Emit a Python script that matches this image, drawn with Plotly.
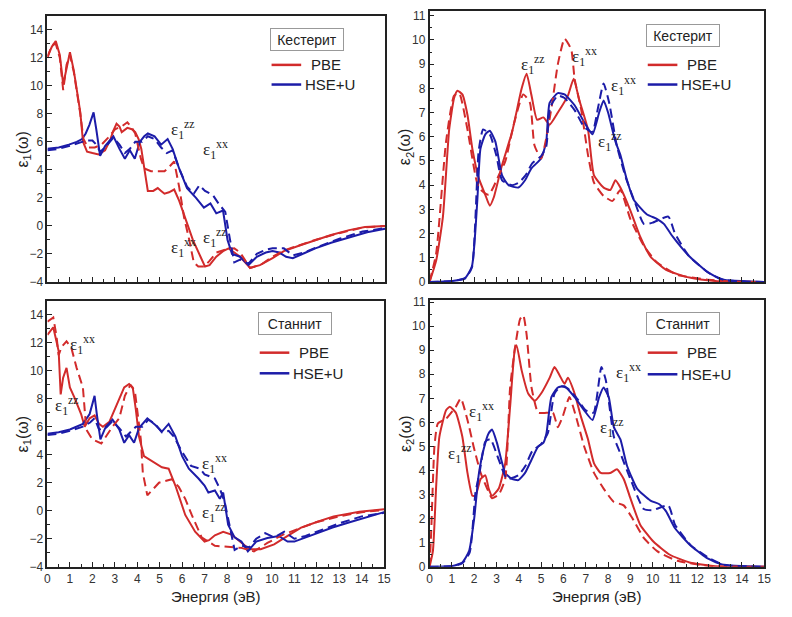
import plotly.graph_objects as go

# ---------------- data ----------------
energy_ticks = list(range(0, 16))

# Kesterite eps1
ke1_pbe_x = [0,0.2,0.37,0.55,0.7,0.85,1.0,1.17,1.3,1.46,1.58,1.76,2.0,2.27,2.56,2.8,2.93,3.07,3.2,3.3,3.55,3.75,3.9,4.05,4.17,4.3,4.46,4.7,4.9,5.05,5.2,5.4,5.63,5.85,6.15,6.46,6.8,7.0,7.2,7.5,7.8,8.05,8.3,8.56,9.0,9.44,10.0,10.5,11.2,11.9,12.6,13.4,14.1,15]
ke1_pbe_y = [12.1,12.8,13.2,12.2,10.1,11.3,12.4,11.1,9.6,8.1,6.0,5.3,5.2,5.1,5.4,6.2,6.8,7.3,7.1,6.7,7.0,6.9,6.7,6.2,5.5,4.2,2.5,2.5,2.7,2.5,2.3,2.4,2.6,1.8,0.4,-1.0,-2.2,-2.9,-2.8,-2.2,-1.8,-1.6,-1.9,-2.2,-3.0,-2.8,-2.3,-1.8,-1.4,-1.0,-0.65,-0.3,-0.07,0.0]
ke1_pbe_d_x = [0,0.2,0.37,0.55,0.7,0.85,1.0,1.17,1.46,1.6,1.8,2.1,2.4,2.7,3.0,3.3,3.55,3.75,3.9,4.0,4.15,4.3,4.6,4.9,5.2,5.4,5.63,5.85,6.07,6.3,6.5,6.7,6.96,7.2,7.5,7.9,8.3,8.56,9.0,9.5,10.0,10.5,11.2,12,13,14,15]
ke1_pbe_d_y = [12.0,12.9,13.0,12.0,9.7,11.5,12.2,11.0,8.0,6.2,5.6,5.6,5.8,6.3,6.9,7.1,7.4,7.0,6.6,5.8,4.8,4.1,3.9,3.9,3.9,4.2,4.6,2.8,0.6,-1.0,-2.6,-2.9,-2.9,-2.5,-1.9,-1.7,-1.6,-1.9,-3.0,-2.75,-2.2,-1.75,-1.35,-0.95,-0.5,-0.12,0.0]
ke1_hse_x = [0,0.5,0.95,1.3,1.54,1.7,1.86,2.05,2.17,2.34,2.56,2.75,2.93,3.2,3.44,3.66,3.88,4.1,4.3,4.46,4.76,5.05,5.2,5.34,5.56,5.85,6.2,6.6,6.95,7.24,7.5,7.8,8.0,8.2,8.56,8.93,9.3,9.7,10.0,10.3,10.6,10.9,11.4,11.9,12.6,13.4,14.2,15]
ke1_hse_y = [5.5,5.6,5.8,6.0,6.2,6.6,7.2,8.1,6.9,5.0,5.7,6.1,6.4,5.5,4.8,5.4,4.8,6.0,6.4,6.6,6.4,5.8,6.0,6.2,5.5,4.1,2.7,2.0,1.3,1.6,0.9,1.1,-1.0,-2.0,-2.2,-2.8,-2.2,-1.9,-1.8,-1.9,-2.2,-2.3,-1.95,-1.6,-1.2,-0.8,-0.45,-0.2]
ke1_hse_d_x = [0,0.5,0.95,1.3,1.54,1.8,2.0,2.17,2.34,2.56,2.75,2.93,3.2,3.44,3.66,3.9,4.2,4.46,4.76,5.05,5.3,5.56,5.85,6.2,6.5,6.75,7.0,7.35,7.6,7.9,8.1,8.3,8.56,8.93,9.3,9.7,10.0,10.5,10.9,11.4,12,13,14,15]
ke1_hse_d_y = [5.4,5.5,5.7,5.9,6.0,6.1,6.1,5.8,5.3,5.6,6.0,6.3,5.8,5.2,5.5,6.0,6.0,6.4,6.2,5.6,5.2,5.4,4.1,2.8,2.3,2.9,2.5,2.2,1.6,1.0,-0.9,-2.6,-2.4,-2.7,-2.0,-1.7,-1.6,-1.6,-2.1,-1.9,-1.5,-0.9,-0.4,-0.15]

# Kesterite eps2
ke2_pbe_x = [0,0.3,0.6,0.88,1.1,1.25,1.47,1.7,1.92,2.2,2.5,2.7,2.88,3.24,3.7,4.13,4.35,4.57,4.82,5.1,5.38,5.75,6.2,6.46,6.7,7.1,7.37,7.8,8.1,8.33,8.55,9.0,9.44,9.9,10.6,11.65,12.8,15]
ke2_pbe_y = [0,0.9,2.7,6.3,7.6,7.9,7.75,6.9,5.5,4.3,3.6,3.15,3.5,4.8,6.2,8.0,8.6,7.7,6.7,6.8,6.5,7.0,7.7,8.4,7.55,6.3,4.4,3.9,3.8,4.2,3.9,2.95,1.87,1.05,0.5,0.18,0.04,0]
ke2_pbe_d_x = [0,0.3,0.74,1.1,1.33,1.7,2.2,2.65,3.1,3.4,3.77,4.2,4.5,4.7,5.0,5.2,5.5,5.75,6.05,6.35,6.5,6.8,7.1,7.37,7.8,8.2,8.55,9.0,9.6,10.2,11.1,12.4,13.5,15]
ke2_pbe_d_y = [0,1.2,5.8,7.7,7.8,6.3,3.9,3.6,4.4,5.0,6.5,7.75,7.4,5.65,5.1,5.8,7.4,9.0,10.05,9.6,8.4,7.1,5.25,4.1,3.55,3.35,3.8,2.6,1.5,0.8,0.3,0.1,0.02,0]
ke2_hse_x = [0,1.03,1.6,1.9,2.14,2.28,2.5,2.7,2.95,3.25,3.54,3.98,4.28,4.57,5.0,5.23,5.38,5.75,6.05,6.5,6.93,7.3,7.6,7.8,8.0,8.33,8.55,8.85,9.15,9.73,10.2,10.5,10.9,11.65,12.4,13.1,15]
ke2_hse_y = [0,0.04,0.17,0.65,3.35,5.5,6.1,6.25,5.8,4.4,4.0,3.9,4.2,4.7,5.1,5.8,7.4,7.8,7.75,7.3,6.6,6.1,7.0,7.5,7.0,5.8,5.25,4.2,3.4,2.8,2.6,2.4,1.87,1.05,0.45,0.1,0]
ke2_hse_d_x = [0,1.03,1.6,1.9,2.2,2.4,2.7,3.0,3.25,3.7,4.0,4.3,4.6,5.0,5.23,5.4,5.75,6.05,6.5,6.93,7.3,7.55,7.8,8.05,8.4,8.8,9.2,9.6,10.0,10.7,11.0,11.6,12.5,13.2,15]
ke2_hse_d_y = [0,0.04,0.15,0.6,5.4,6.3,6.1,5.2,4.2,4.0,4.1,4.4,4.9,5.2,5.6,7.2,7.7,7.6,7.1,6.4,6.2,7.2,8.2,7.4,5.6,4.3,3.3,2.4,2.45,2.7,2.0,1.1,0.38,0.08,0]

# Stannite eps1
st1_pbe_x = [0,0.26,0.5,0.59,0.7,0.85,1.0,1.2,1.5,1.66,1.88,2.1,2.3,2.47,2.76,3.13,3.42,3.64,3.8,3.94,4.08,4.3,4.67,5.1,5.4,5.7,6.14,6.58,7.0,7.2,7.46,7.83,8.2,8.64,9.0,9.5,10.1,10.7,11.3,12.0,12.75,13.9,15]
st1_pbe_y = [12.55,13.1,11.4,8.3,9.5,10.2,8.8,8.1,6.9,6.0,6.6,6.8,6.2,6.0,6.35,7.75,8.8,9.05,8.8,7.2,5.3,3.9,3.55,3.1,3.0,1.8,-0.3,-1.5,-2.2,-2.1,-1.75,-1.5,-1.7,-2.3,-2.75,-2.75,-2.4,-1.8,-1.2,-0.8,-0.4,-0.07,0.1]
st1_pbe_d_x = [0,0.26,0.4,0.5,0.63,0.85,1.07,1.3,1.58,1.73,2.0,2.4,2.9,3.2,3.45,3.7,3.9,4.05,4.16,4.25,4.45,4.97,5.55,5.85,6.14,6.43,6.87,7.46,8.34,8.64,9.2,9.8,10.5,11.3,12,13,14,15]
st1_pbe_d_y = [13.5,13.8,12.5,11.1,11.7,12.1,11.6,10.2,8.8,5.8,5.1,4.8,6.0,6.6,8.2,9.0,8.5,6.5,5.1,2.7,1.1,2.0,2.25,1.7,0.85,-0.3,-1.9,-2.5,-2.65,-2.65,-2.9,-2.3,-1.7,-1.2,-0.8,-0.4,-0.1,0.05]
st1_hse_x = [0,0.5,1.0,1.58,1.88,2.1,2.2,2.36,2.6,2.9,3.2,3.42,3.64,3.86,4.08,4.45,4.82,5.1,5.4,5.7,6.0,6.3,6.73,7.0,7.17,7.46,7.68,7.83,8.05,8.34,8.64,8.93,9.3,9.8,10.3,10.7,11.0,11.5,12.0,12.7,13.5,14.2,15]
st1_hse_y = [5.5,5.6,5.8,6.2,6.9,8.2,6.9,5.1,6.0,6.5,5.8,4.85,5.4,4.85,5.9,6.6,6.1,5.65,6.2,5.3,3.9,3.0,2.3,1.8,1.3,1.45,0.85,1.3,-1.0,-1.9,-2.2,-2.9,-2.2,-1.95,-1.8,-2.2,-2.2,-1.9,-1.6,-1.2,-0.8,-0.45,-0.1]
st1_hse_d_x = [0,0.5,1.0,1.58,1.9,2.1,2.3,2.6,2.9,3.2,3.5,3.94,4.23,4.5,4.8,5.1,5.4,5.63,6.0,6.4,6.8,7.0,7.46,7.7,7.9,8.1,8.34,8.64,9.0,9.3,9.7,10.1,10.55,11,11.5,12,13,14,15]
st1_hse_d_y = [5.4,5.5,5.7,6.0,6.3,6.6,5.8,5.9,6.4,5.9,5.3,6.0,6.0,6.5,6.2,5.6,5.7,5.3,4.2,3.2,3.0,2.6,2.3,1.5,0.6,-1.0,-2.8,-2.5,-2.6,-2.0,-1.6,-1.9,-1.5,-2.0,-1.8,-1.5,-0.9,-0.4,-0.15]

# Stannite eps2
st2_pbe_x = [0,0.15,0.3,0.44,0.74,0.91,1.18,1.47,1.7,1.92,2.06,2.29,2.5,2.65,2.8,3.1,3.39,3.61,3.83,3.9,4.13,4.42,4.72,5.0,5.38,5.6,5.83,6.05,6.2,6.5,6.78,7.1,7.37,7.67,8.1,8.4,8.7,9.0,9.44,10.03,10.77,11.65,13.1,15]
st2_pbe_y = [0,0.65,3.4,5.4,6.5,6.65,6.4,5.4,3.9,2.95,2.95,3.65,3.8,3.25,2.95,3.25,4.3,6.65,9.1,9.2,8.15,7.2,6.9,7.2,7.85,8.3,7.95,7.6,7.85,7.2,6.25,5.3,4.3,3.9,3.9,4.05,3.65,2.85,1.75,1.05,0.5,0.18,0,0]
st2_pbe_d_x = [0,0.07,0.22,0.37,0.74,1.18,1.4,1.7,2.0,2.29,2.58,2.8,3.1,3.39,3.61,3.83,4.06,4.2,4.35,4.57,4.87,5.24,5.53,5.75,5.97,6.27,6.56,6.93,7.37,7.8,8.25,8.7,9.1,9.6,10.2,11.1,12.5,15]
st2_pbe_d_y = [0,1.35,5.0,5.95,6.15,6.65,7.0,6.1,4.9,3.9,3.25,2.85,3.0,3.65,7.45,9.1,10.3,10.45,9.65,7.45,6.4,6.4,6.4,5.8,6.25,7.05,6.25,5.0,3.9,3.25,2.7,2.55,2.0,1.2,0.65,0.25,0.04,0]
st2_hse_x = [0,1.03,1.47,1.77,2.0,2.2,2.43,2.65,2.8,3.02,3.39,3.69,3.98,4.28,4.57,4.87,5.1,5.24,5.46,5.75,6.05,6.5,6.93,7.3,7.6,7.8,8.03,8.26,8.55,8.85,9.3,9.9,10.3,10.6,11.0,11.65,12.4,13.1,15]
st2_hse_y = [0,0.03,0.18,0.65,2.0,3.8,4.9,5.55,5.7,5.15,3.9,3.65,3.6,3.9,4.45,5.0,5.15,5.55,7.05,7.45,7.5,7.05,6.5,6.1,7.05,7.45,7.05,5.8,5.3,4.2,3.25,2.75,2.6,2.3,1.6,0.93,0.38,0.1,0]
st2_hse_d_x = [0,1.03,1.47,1.8,2.06,2.24,2.5,2.73,3.1,3.47,3.98,4.3,4.6,5.0,5.3,5.6,5.9,6.2,6.6,7.0,7.35,7.7,7.9,8.26,8.6,9.0,9.6,10.0,10.7,11.0,11.7,12.5,13.2,15]
st2_hse_d_y = [0,0.03,0.15,0.6,3.1,3.9,5.2,5.3,4.45,3.65,3.8,4.2,4.8,5.1,5.55,7.2,7.5,7.4,7.0,6.5,6.4,8.3,7.75,5.4,4.6,3.65,2.4,2.35,2.55,1.75,0.9,0.38,0.08,0]

panel_titles = ["Кестерит", "Кестерит", "Станнит", "Станнит"]
legend_names = ["PBE", "HSE+U"]
x_title = "Энергия (эВ)"
y_titles = ["ε<sub>1</sub>(ω)", "ε<sub>2</sub>(ω)", "ε<sub>1</sub>(ω)", "ε<sub>2</sub>(ω)"]

# (panel index, superscript, x of the epsilon glyph, y)
labels = [
    (0, "zz", 5.6, 6.9), (0, "xx", 7.0, 5.45), (0, "xx", 5.6, -1.55), (0, "zz", 7.0, -0.8),
    (1, "zz", 4.2, 9.0), (1, "xx", 6.5, 9.3), (1, "xx", 8.25, 8.1), (1, "zz", 7.65, 5.8),
    (2, "xx", 1.1, 11.9), (2, "zz", 0.45, 7.5), (2, "xx", 7.0, 3.4), (2, "zz", 7.0, -0.1),
    (3, "xx", 1.9, 6.45), (3, "zz", 0.93, 4.7), (3, "xx", 8.45, 8.07), (3, "zz", 7.75, 5.8),
]

RED = "#d22b2b"
BLUE = "#1c1ca8"
W, H = 792, 617

fig = go.Figure()

panels = [
    (ke1_pbe_x, ke1_pbe_y, ke1_pbe_d_x, ke1_pbe_d_y, ke1_hse_x, ke1_hse_y, ke1_hse_d_x, ke1_hse_d_y),
    (ke2_pbe_x, ke2_pbe_y, ke2_pbe_d_x, ke2_pbe_d_y, ke2_hse_x, ke2_hse_y, ke2_hse_d_x, ke2_hse_d_y),
    (st1_pbe_x, st1_pbe_y, st1_pbe_d_x, st1_pbe_d_y, st1_hse_x, st1_hse_y, st1_hse_d_x, st1_hse_d_y),
    (st2_pbe_x, st2_pbe_y, st2_pbe_d_x, st2_pbe_d_y, st2_hse_x, st2_hse_y, st2_hse_d_x, st2_hse_d_y),
]

for i, p in enumerate(panels):
    xa = "x" if i == 0 else f"x{i+1}"
    ya = "y" if i == 0 else f"y{i+1}"
    shape = "linear" if i in (0, 2) else "spline"
    for (xs, ys, col, dash) in [(p[0], p[1], RED, "solid"), (p[4], p[5], BLUE, "solid"),
                                (p[2], p[3], RED, "9px,5px"), (p[6], p[7], BLUE, "9px,5px")]:
        fig.add_trace(go.Scatter(x=xs, y=ys, mode="lines", xaxis=xa, yaxis=ya,
                                 line=dict(color=col, width=2, dash=dash, shape=shape,
                                           smoothing=0.5 if shape == "spline" else None),
                                 showlegend=False, hoverinfo="skip"))

# panel pixel boxes: (left, right, top, bottom)
boxes = [(45, 387, 12, 283), (432, 771, 7, 283), (45, 386, 302, 573), (432, 771, 301, 573)]
yranges = [[-4, 15], [0, 11.2], [-4, 15], [0, 11.1]]

tickfont = dict(family="Liberation Sans, Arial", size=12, color="#333")
for i, (l, r, t, b) in enumerate(boxes):
    sx = "" if i == 0 else str(i + 1)
    xa = dict(domain=[l / W, r / W], range=[0, 15], anchor="y" + sx, tickmode="array",
              tickvals=energy_ticks, ticktext=[str(v) for v in energy_ticks],
              showticklabels=(i >= 2), ticks="inside", ticklen=5, tickwidth=1.2, tickcolor="#222",
              minor=dict(ticks="inside", ticklen=3, dtick=0.5, tickcolor="#222"),
              showline=True, mirror=True, linecolor="#222", linewidth=1.5,
              showgrid=False, zeroline=False, tickfont=tickfont)
    left = i in (0, 2)
    ya = dict(domain=[1 - b / H, 1 - t / H], range=yranges[i], anchor="x" + sx,
              dtick=2 if left else 1, tick0=-4 if left else 0,
              ticks="inside", ticklen=5, tickwidth=1.2, tickcolor="#222",
              minor=dict(ticks="inside", ticklen=3, dtick=1 if left else 0.5, tickcolor="#222"),
              showline=True, mirror=True, linecolor="#222", linewidth=1.5,
              showgrid=False, zeroline=False, tickfont=tickfont)
    fig.layout["xaxis" + sx] = xa
    fig.layout["yaxis" + sx] = ya

annotations = []
shapes = []
legend_pos = [(272, 27, 62, 82), (653, 23, 62, 82), (260, 316, 355, 376), (653, 316, 355, 377)]
for i, (l, r, t, b) in enumerate(boxes):
    lx, bt, y1, y2 = legend_pos[i]
    annotations.append(dict(xref="paper", yref="paper", x=(lx + 36) / W, y=1 - (bt + 9) / H,
                            xanchor="center", yanchor="middle",
                            text=panel_titles[i], showarrow=False,
                            font=dict(family="Liberation Sans, Arial", size=14, color="#222"),
                            bordercolor="#999", borderwidth=1, borderpad=2, width=68, height=17,
                            bgcolor="white"))
    for yy, col, name, tx in [(y1, RED, legend_names[0], lx + 38), (y2, BLUE, legend_names[1], lx + 32)]:
        shapes.append(dict(type="line", xref="paper", yref="paper", x0=lx / W, x1=(lx + 30) / W,
                           y0=1 - yy / H, y1=1 - yy / H, line=dict(color=col, width=2.5)))
        annotations.append(dict(xref="paper", yref="paper", x=tx / W, y=1 - yy / H,
                                xanchor="left", yanchor="middle",
                                text=name, showarrow=False,
                                font=dict(family="Liberation Sans, Arial", size=15, color="#222")))
    annotations.append(dict(xref="paper", yref="paper", x=(l - 24) / W,
                            y=1 - (t + b) / 2 / H, xanchor="center", yanchor="middle",
                            text=y_titles[i], textangle=-90, showarrow=False,
                            font=dict(family="Liberation Sans, Arial", size=16, color="#222")))
    if i >= 2:
        annotations.append(dict(xref="paper", yref="paper", x=(l + r) / 2 / W, y=1 - 603 / H,
                                xanchor="center", yanchor="middle",
                                text=x_title, showarrow=False,
                                font=dict(family="Liberation Sans, Arial", size=15, color="#222")))

for (i, s, x, y) in labels:
    sx = "" if i == 0 else str(i + 1)
    annotations.append(dict(xref="x" + sx, yref="y" + sx, x=x - 0.2, y=y, showarrow=False,
                            xanchor="left", yanchor="middle",
                            text=f"ε<sub>1</sub><sup>{s}</sup>",
                            font=dict(family="Liberation Serif, Times New Roman", size=17, color="#222")))

fig.update_layout(width=W, height=H, margin=dict(l=0, r=0, t=0, b=0),
                  paper_bgcolor="white", plot_bgcolor="white",
                  annotations=annotations, shapes=shapes, showlegend=False)

fig.write_html("out.html")
